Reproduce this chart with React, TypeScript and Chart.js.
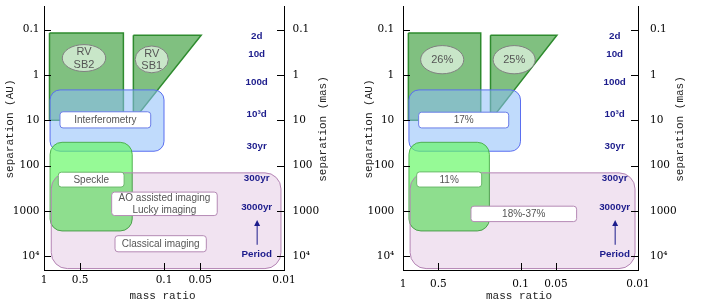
import React, { useEffect, useRef } from 'react';
import { Chart, registerables } from 'chart.js';
Chart.register(...registerables);

// ---- axes ----
const massRange = [0.01, 1];
const sepRange = [0.03, 20000];
const xTickValues = [1, 0.5, 0.1, 0.05, 0.01];
const xTickLabels = ['1', '0.5', '0.1', '0.05', '0.01'];
const yTickValues = [0.1, 1, 10, 100, 1000, 10000];
const yTickLabels = ['0.1', '1', '10', '100', '1000', '10⁴'];

// ---- RV regions (mass ratio, separation AU) ----
const sb2X = [0.9, 0.218, 0.218, 0.9, 0.9];
const sb2Y = [0.118, 0.118, 10, 10, 0.118];
const sb1X = [0.18, 0.049, 0.18, 0.18];
const sb1Y = [0.133, 0.133, 10, 0.133];

// ---- technique regions [q1, q2, sep1, sep2] ----
const interferometryBox = [0.89, 0.1, 2.13, 48];
const speckleBox = [0.89, 0.184, 30.5, 2750];
const imagingBox = [0.87, 0.0106, 144, 18600];

// ---- period labels ----
const periodLabels = ['2d', '10d', '100d', '10³d', '30yr', '300yr', '3000yr'];
const periodSeps = [0.137, 0.356, 1.45, 7.3, 37, 187, 824];
const periodArrow = [5550, 1570];
const periodWordSep = 8930;

// ---- left panel annotations ----
const leftLabelTexts = [['Interferometry'], ['Speckle'], ['AO assisted imaging', 'Lucky imaging'], ['Classical imaging']];
const leftLabelBoxes = [[0.736, 0.129, 6.47, 14.7], [0.76, 0.215, 139, 296], [0.273, 0.036, 382, 1259], [0.256, 0.0444, 3500, 7943]];
const leftEllipseTexts = [['RV', 'SB2'], ['RV', 'SB1']];
const leftEllipseBoxes = [[0.704, 0.306, 0.213, 0.836], [0.174, 0.092, 0.229, 0.893]];

// ---- right panel annotations ----
const rightLabelTexts = [['17%'], ['11%'], ['18%-37%']];
const rightLabelBoxes = [[0.736, 0.126, 6.6, 14.7], [0.765, 0.214, 137, 296], [0.264, 0.0333, 782, 1711]];
const rightEllipseTexts = [['26%'], ['25%']];
const rightEllipseBoxes = [[0.708, 0.304, 0.224, 0.94], [0.171, 0.075, 0.224, 0.94]];

const BLUE_B = '#6a7de8';
const GREEN_B = '#6cba6c';
const PURPLE_B = '#b58ab5';
const NAVY = '#1c1c8c';

type PanelDef = {
  labelTexts: string[][];
  labelBoxes: number[][];
  labelBorders: string[];
  ellipseTexts: string[][];
  ellipseBoxes: number[][];
  ellipseFont: number;
  ellipseLine: number;
  periodX: number;
  lay: { left: number; right: number; xPad: number; yPadL: number; yPadR: number; titleLX: number; titleRX: number };
};

const W = 354;
const H = 303;
const TOP = 6;
const X_AXIS_H = 33;

const findLabel = (vals: number[], labels: string[], v: number) => {
  const i = vals.findIndex((t) => Math.abs(t - v) / t < 1e-6);
  return i >= 0 ? labels[i] : null;
};

function roundRect(ctx: CanvasRenderingContext2D, ax: number, ay: number, bx: number, by: number, r: number) {
  const x = Math.min(ax, bx), y = Math.min(ay, by);
  const w = Math.abs(bx - ax), h = Math.abs(by - ay);
  r = Math.min(r, w / 2, h / 2);
  ctx.beginPath();
  ctx.moveTo(x + r, y);
  ctx.arcTo(x + w, y, x + w, y + h, r);
  ctx.arcTo(x + w, y + h, x, y + h, r);
  ctx.arcTo(x, y + h, x, y, r);
  ctx.arcTo(x, y, x + w, y, r);
  ctx.closePath();
}

function makePlugin(def: PanelDef) {
  return {
    id: 'overlay',
    beforeDraw(chart: any) {
      const ctx = chart.ctx;
      ctx.save();
      ctx.fillStyle = '#fff';
      ctx.fillRect(0, 0, chart.width, chart.height);
      ctx.restore();
    },
    afterDatasetsDraw(chart: any) {
      const { ctx, scales } = chart;
      const X = (v: number) => scales.x.getPixelForValue(v);
      const Y = (v: number) => scales.y.getPixelForValue(v);
      const R = (b: number[]) => [X(b[0]), Y(b[2]), X(b[1]), Y(b[3])] as [number, number, number, number];
      ctx.save();
      ctx.lineWidth = 1;
      // interferometry
      roundRect(ctx, ...R(interferometryBox), 10);
      ctx.fillStyle = 'rgba(140,190,250,0.55)';
      ctx.fill();
      ctx.strokeStyle = '#5a6ef0';
      ctx.stroke();
      // speckle
      roundRect(ctx, ...R(speckleBox), 12);
      ctx.fillStyle = 'rgba(100,248,100,0.68)';
      ctx.fill();
      ctx.strokeStyle = 'rgba(70,170,70,0.9)';
      ctx.stroke();
      // imaging
      roundRect(ctx, ...R(imagingBox), 16);
      ctx.globalCompositeOperation = 'multiply';
      ctx.fillStyle = '#f1e3f1';
      ctx.fill();
      ctx.globalCompositeOperation = 'source-over';
      ctx.strokeStyle = '#b484b4';
      ctx.stroke();

      // label boxes
      ctx.textAlign = 'center';
      ctx.textBaseline = 'middle';
      def.labelBoxes.forEach((b, i) => {
        const [x1, y1, x2, y2] = R(b);
        roundRect(ctx, x1, y1, x2, y2, 3);
        ctx.fillStyle = '#fff';
        ctx.fill();
        ctx.strokeStyle = def.labelBorders[i];
        ctx.stroke();
        const lines = def.labelTexts[i];
        ctx.fillStyle = '#555';
        ctx.font = '10px "Liberation Sans"';
        const cx = (x1 + x2) / 2, cy = (y1 + y2) / 2;
        lines.forEach((t, k) => {
          ctx.fillText(t, cx, cy + (k - (lines.length - 1) / 2) * 11.4 + 0.5);
        });
      });

      // ellipses
      def.ellipseBoxes.forEach((b, i) => {
        const [x1, y1, x2, y2] = R(b);
        const cx = (x1 + x2) / 2, cy = (y1 + y2) / 2;
        ctx.beginPath();
        ctx.ellipse(cx, cy, Math.abs(x2 - x1) / 2, Math.abs(y2 - y1) / 2, 0, 0, Math.PI * 2);
        ctx.fillStyle = '#c8e6c8';
        ctx.fill();
        ctx.strokeStyle = '#808080';
        ctx.stroke();
        const lines = def.ellipseTexts[i];
        ctx.fillStyle = '#555';
        ctx.font = `${def.ellipseFont}px "Liberation Sans"`;
        lines.forEach((t, k) => {
          ctx.fillText(t, cx, cy + (k - (lines.length - 1) / 2) * def.ellipseLine + 0.5);
        });
      });

      // periods
      const px = X(def.periodX);
      ctx.fillStyle = NAVY;
      ctx.font = 'bold 9.8px "Liberation Sans"';
      periodLabels.forEach((t, i) => ctx.fillText(t, px, Y(periodSeps[i])));
      ctx.fillText('Period', px, Y(periodWordSep));
      const yFrom = Y(periodArrow[0]), yTo = Y(periodArrow[1]);
      ctx.strokeStyle = NAVY;
      ctx.beginPath();
      ctx.moveTo(px + 0.5, yFrom);
      ctx.lineTo(px + 0.5, yTo + 4);
      ctx.stroke();
      ctx.beginPath();
      ctx.moveTo(px + 0.5, yTo);
      ctx.lineTo(px - 2.5, yTo + 6);
      ctx.lineTo(px + 3.5, yTo + 6);
      ctx.closePath();
      ctx.fill();
      ctx.restore();
    },
    afterDraw(chart: any) {
      const { ctx, scales, chartArea: a } = chart;
      const L = def.lay;
      ctx.save();
      ctx.strokeStyle = '#000';
      ctx.lineWidth = 1;
      const seg = (x1: number, y1: number, x2: number, y2: number) => {
        ctx.beginPath();
        ctx.moveTo(x1, y1);
        ctx.lineTo(x2, y2);
        ctx.stroke();
      };
      scales.x.ticks.forEach((t: any) => {
        const p = Math.round(scales.x.getPixelForValue(t.value)) + 0.5;
        const len = findLabel(xTickValues, xTickLabels, t.value) ? 7 : 4;
        seg(p, a.bottom, p, a.bottom - len);
      });
      scales.y.ticks.forEach((t: any) => {
        const p = Math.round(scales.y.getPixelForValue(t.value)) + 0.5;
        const len = findLabel(yTickValues, yTickLabels, t.value) ? 7 : 4;
        seg(a.left, p, a.left + len, p);
        seg(a.right, p, a.right - len, p);
      });
      // titles
      ctx.fillStyle = '#222';
      ctx.font = '11px "Liberation Mono"';
      ctx.textAlign = 'center';
      ctx.textBaseline = 'middle';
      ctx.save();
      ctx.translate(L.titleLX, 129);
      ctx.rotate(-Math.PI / 2);
      ctx.fillText('separation (AU)', 0, 0);
      ctx.restore();
      ctx.save();
      ctx.translate(L.titleRX, 129);
      ctx.rotate(-Math.PI / 2);
      ctx.fillText('separation (mas)', 0, 0);
      ctx.restore();
      ctx.textBaseline = 'alphabetic';
      ctx.fillText('mass ratio', (a.left + a.right) / 2 - 1.5, 298.5);
      ctx.restore();
    },
  };
}

const zeroPad = (s: any) => {
  s.paddingTop = 0;
  s.paddingBottom = 0;
  s.paddingLeft = 0;
  s.paddingRight = 0;
};

function Panel({ def }: { def: PanelDef }) {
  const ref = useRef<HTMLCanvasElement>(null);
  useEffect(() => {
    const L = def.lay;
    const tickFont = { family: '"DejaVu Serif"', size: 10.5 };
    const polyStyle = {
      showLine: true,
      fill: 'shape',
      backgroundColor: 'rgb(128,192,128)',
      borderColor: '#2e8b2e',
      borderWidth: 1.5,
      pointRadius: 0,
      tension: 0,
    };
    const chart = new Chart(ref.current as HTMLCanvasElement, {
      type: 'scatter',
      data: {
        datasets: [
          { ...polyStyle, data: sb2X.map((x, i) => ({ x, y: sb2Y[i] })) },
          { ...polyStyle, data: sb1X.map((x, i) => ({ x, y: sb1Y[i] })) },
        ] as any,
      },
      options: {
        animation: false,
        responsive: false,
        devicePixelRatio: 1,
        events: [],
        layout: { padding: { top: TOP, left: 0, right: 0, bottom: 0 } },
        plugins: { legend: { display: false }, tooltip: { enabled: false } },
        scales: {
          x: {
            type: 'logarithmic',
            reverse: true,
            min: massRange[0],
            max: massRange[1],
            position: 'bottom',
            grid: { display: false, drawTicks: false },
            border: { display: true, color: '#000', width: 1 },
            ticks: {
              autoSkip: false,
              maxRotation: 0,
              minRotation: 0,
              padding: L.xPad,
              color: '#000',
              font: tickFont,
              callback: (v: any) => findLabel(xTickValues, xTickLabels, Number(v)),
            },
            afterFit: (s: any) => {
              s.height = X_AXIS_H;
              zeroPad(s);
            },
          },
          y: {
            type: 'logarithmic',
            reverse: true,
            min: sepRange[0],
            max: sepRange[1],
            position: 'left',
            grid: { display: false, drawTicks: false },
            border: { display: true, color: '#000', width: 1 },
            ticks: {
              autoSkip: false,
              padding: L.yPadL,
              color: '#000',
              font: tickFont,
              callback: (v: any) => findLabel(yTickValues, yTickLabels, Number(v)),
            },
            afterFit: (s: any) => {
              s.width = L.left;
              zeroPad(s);
            },
          },
          y2: {
            type: 'logarithmic',
            reverse: true,
            min: sepRange[0],
            max: sepRange[1],
            position: 'right',
            grid: { display: false, drawTicks: false },
            border: { display: true, color: '#000', width: 1 },
            ticks: {
              autoSkip: false,
              padding: L.yPadR,
              color: '#000',
              font: tickFont,
              callback: (v: any) => findLabel(yTickValues, yTickLabels, Number(v)),
            },
            afterFit: (s: any) => {
              s.width = W - L.right;
              zeroPad(s);
            },
          },
        },
      } as any,
      plugins: [makePlugin(def)],
    });
    return () => chart.destroy();
  }, [def]);
  return <canvas ref={ref} width={W} height={H} style={{ display: 'block', width: W, height: H }} />;
}

const leftDef: PanelDef = {
  labelTexts: leftLabelTexts,
  labelBoxes: leftLabelBoxes,
  labelBorders: [BLUE_B, GREEN_B, PURPLE_B, PURPLE_B],
  ellipseTexts: leftEllipseTexts,
  ellipseBoxes: leftEllipseBoxes,
  ellipseFont: 11,
  ellipseLine: 12.3,
  periodX: 0.0169,
  lay: { left: 44, right: 284, xPad: 4, yPadL: 4.5, yPadR: 8.5, titleLX: 10, titleRX: 322.7 },
};

const rightDef: PanelDef = {
  labelTexts: rightLabelTexts,
  labelBoxes: rightLabelBoxes,
  labelBorders: [BLUE_B, GREEN_B, PURPLE_B],
  ellipseTexts: rightEllipseTexts,
  ellipseBoxes: rightEllipseBoxes,
  ellipseFont: 11,
  ellipseLine: 12.3,
  periodX: 0.0158,
  lay: { left: 49, right: 284, xPad: 8, yPadL: 8.7, yPadR: 12, titleLX: 15.3, titleRX: 326.5 },
};

export default function App() {
  return (
    <div style={{ position: 'absolute', left: 0, top: 0, width: 708, height: 303, background: '#fff', overflow: 'hidden' }}>
      <div style={{ position: 'absolute', left: 0, top: 0, width: W, height: H }}>
        <Panel def={leftDef} />
      </div>
      <div style={{ position: 'absolute', left: 354, top: 0, width: W, height: H }}>
        <Panel def={rightDef} />
      </div>
    </div>
  );
}
